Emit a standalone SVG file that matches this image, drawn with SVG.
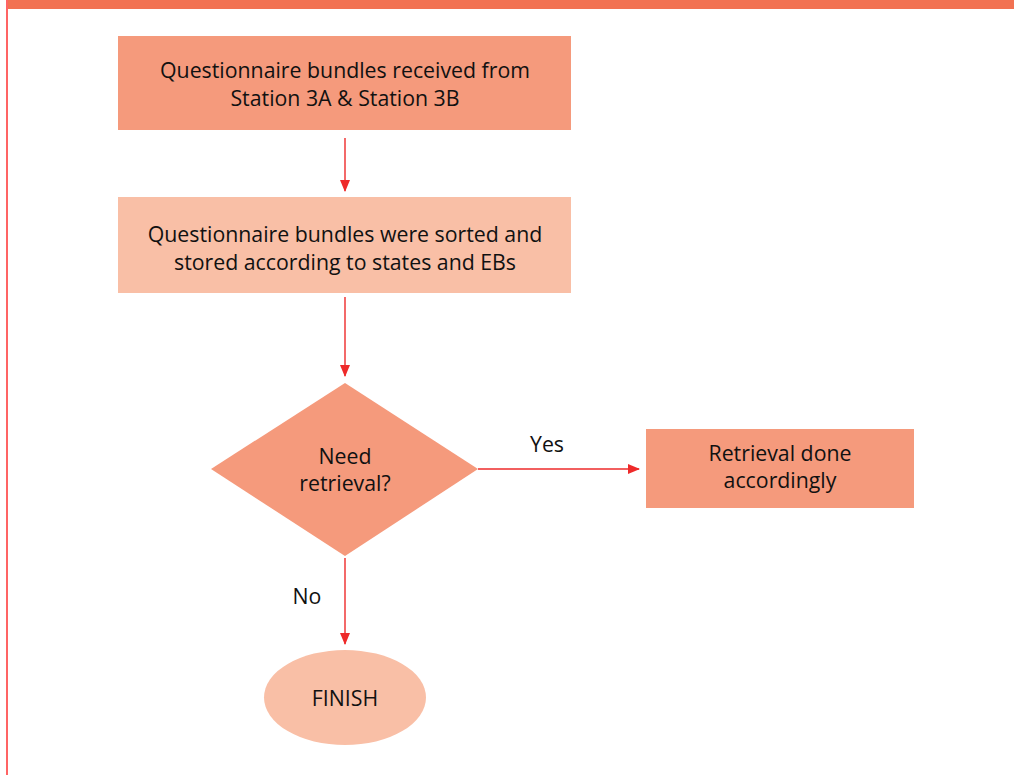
<svg xmlns="http://www.w3.org/2000/svg" width="1014" height="775" viewBox="0 0 1014 775">
  <style>
    .lbl { font-family: "Open Sans", "Liberation Sans", Arial, sans-serif; font-size: 21.3px; fill: #111111; text-anchor: middle; }
    .dark { fill: #F59A7C; }
    .light { fill: #F9BFA6; }
    .conn { stroke: #EE2A2A; stroke-width: 1.4; fill: none; marker-end: url(#arrow); }
  </style>
  <defs>
    <marker id="arrow" viewBox="0 0 12 10" refX="11" refY="5" markerWidth="12" markerHeight="10" markerUnits="userSpaceOnUse" orient="auto">
      <path d="M0,0 L12,5 L0,10 Z" fill="#EE2A2A"/>
    </marker>
  </defs>
  <rect width="1014" height="775" fill="#FFFFFF"/>
  <!-- frame: top band and left rule -->
  <rect x="6" y="0" width="1008" height="9" fill="#F27252"/>
  <rect x="6" y="0" width="2" height="775" fill="#FF6464"/>

  <g id="connectors">
    <line class="conn" x1="345" y1="138" x2="345" y2="191"/>
    <line class="conn" x1="345" y1="297" x2="345" y2="376"/>
    <line class="conn" x1="478" y1="469" x2="639" y2="469"/>
    <line class="conn" x1="345" y1="558" x2="345" y2="644"/>
    <text class="lbl" x="547" y="452">Yes</text>
    <text class="lbl" x="307" y="604">No</text>
  </g>

  <g id="received">
    <rect class="dark" x="118" y="36" width="453" height="94"/>
    <text class="lbl"><tspan x="345" y="78">Questionnaire bundles received from</tspan><tspan x="345" y="106">Station 3A &amp; Station 3B</tspan></text>
  </g>

  <g id="sorted">
    <rect class="light" x="118" y="197" width="453" height="96"/>
    <text class="lbl"><tspan x="345" y="242">Questionnaire bundles were sorted and</tspan><tspan x="345" y="270">stored according to states and EBs</tspan></text>
  </g>

  <g id="decision">
    <polygon class="dark" points="345,383 478,469 345,556 211,469"/>
    <text class="lbl"><tspan x="345" y="464">Need</tspan><tspan x="345" y="491">retrieval?</tspan></text>
  </g>

  <g id="retrieval">
    <rect class="dark" x="646" y="429" width="268" height="79"/>
    <text class="lbl"><tspan x="780" y="461">Retrieval done</tspan><tspan x="780" y="488">accordingly</tspan></text>
  </g>

  <g id="finish">
    <ellipse class="light" cx="345" cy="697.5" rx="81" ry="47.5"/>
    <text class="lbl" x="345" y="706">FINISH</text>
  </g>
</svg>
